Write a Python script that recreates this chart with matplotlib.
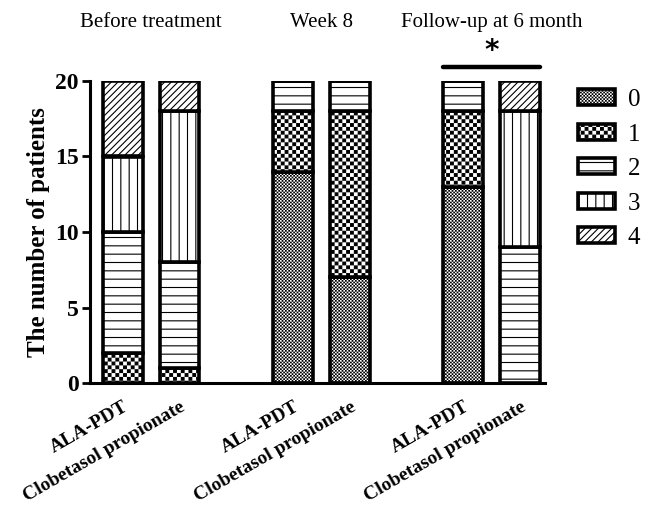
import numpy as np
import matplotlib
matplotlib.use("Agg")
import matplotlib.pyplot as plt
from matplotlib import hatch as mhatch
from matplotlib.path import Path

## DATI ##
groups = ["Before treatment", "Week 8", "Follow-up at 6 month"]
treatments = ["ALA-PDT", "Clobetasol propionate"] * 3
grades = ["0", "1", "2", "3", "4"]
grade0 = [0, 0, 14, 7, 13, 0]
grade1 = [2, 1, 4, 11, 5, 0]
grade2 = [8, 7, 2, 2, 2, 9]
grade3 = [5, 10, 0, 0, 0, 9]
grade4 = [5, 2, 0, 0, 0, 2]
yticks = [0, 5, 10, 15, 20]


## tratteggio a scacchiera ('o' grossa, 'O' fine) al posto dei cerchi
class Checker(mhatch.HatchPatternBase):
    def __init__(self, hatch, density):
        self.cells = hatch.count('o') * 26 + hatch.count('O') * 30
        self.num_vertices = 5 * (self.cells * self.cells // 2)

    def set_vertices_and_codes(self, vertices, codes):
        s = 1.0 / self.cells
        d = 0.0055  # compensa lo spessore del tratto
        k = 0
        for i in range(self.cells):
            for j in range(self.cells):
                if (i + j) % 2:
                    continue
                x0, y0 = i * s + d, j * s + d
                x1, y1 = (i + 1) * s - d, (j + 1) * s - d
                vertices[k:k + 5] = [(x0, y0), (x1, y0), (x1, y1), (x0, y1), (x0, y0)]
                codes[k:k + 5] = [Path.MOVETO, Path.LINETO, Path.LINETO,
                                  Path.LINETO, Path.CLOSEPOLY]
                k += 5


mhatch._hatch_types = [h for h in mhatch._hatch_types
                       if h not in (mhatch.SmallCircles, mhatch.LargeCircles)] + [Checker]

plt.rcParams['font.family'] = ['Liberation Serif', 'DejaVu Serif']
plt.rcParams['hatch.linewidth'] = 0.8

hatches = ['OO', 'o', '--', '||', '/////']
series = [grade0, grade1, grade2, grade3, grade4]

fig = plt.figure(figsize=(6.49, 5.07), dpi=100)
ax = fig.add_axes([90 / 649, 124 / 507, 455 / 649, 302 / 507])

x = np.array([0, 1, 3, 4, 6, 7], dtype=float)
w = 0.7
bottom = np.zeros(len(x))
handles = []
for vals, h, lab in zip(series, hatches, grades):
    vals = np.array(vals, dtype=float)
    b = ax.bar(x, vals, w, bottom=bottom, color='white', edgecolor='black',
               hatch=h, linewidth=2.6, label=lab, zorder=3)
    handles.append(b)
    bottom = bottom + vals

ax.set_xlim(x[0] - 0.58, x[-1] + 0.44)
ax.set_ylim(0, 20)
ax.set_yticks(yticks)
ax.set_xticks(x)
ax.set_xticklabels(treatments, rotation=30, ha='right', rotation_mode='anchor',
                   fontsize=14, fontweight='bold')
ax.tick_params(axis='x', length=0, pad=11)
ax.tick_params(axis='y', length=6, width=2, labelsize=17, pad=2)
for t in ax.get_yticklabels():
    t.set_fontweight('bold')
ax.spines['top'].set_visible(False)
ax.spines['right'].set_visible(False)
ax.spines['left'].set_linewidth(2.2)
ax.spines['bottom'].set_linewidth(2.2)
ax.set_ylabel("The number of patients", fontsize=18, fontweight='bold', labelpad=4)

# titoli dei gruppi
tr = ax.get_xaxis_transform()
for i, g in enumerate(groups):
    xc = (x[2 * i] + x[2 * i + 1]) / 2
    ax.text(xc, 1.195, g, transform=tr, ha='center', va='center', fontsize=15)

# significatività follow-up
ax.plot([x[4] - w / 2, x[5] + w / 2], [1.046, 1.046], color='black', lw=3.2,
        transform=tr, clip_on=False, solid_capstyle='round')
ax.text((x[4] + x[5]) / 2, 1.10, "*", transform=tr, ha='center', va='center',
        fontsize=20, fontweight='bold', family='DejaVu Sans')

leg = ax.legend(handles=handles, loc='upper left', bbox_to_anchor=(1.0725, 0.973),
                frameon=False, fontsize=18, handlelength=1.5, handleheight=0.6,
                labelspacing=0.5, handletextpad=0.5, borderpad=0, borderaxespad=0)

fig.savefig("out.png", dpi=100)
